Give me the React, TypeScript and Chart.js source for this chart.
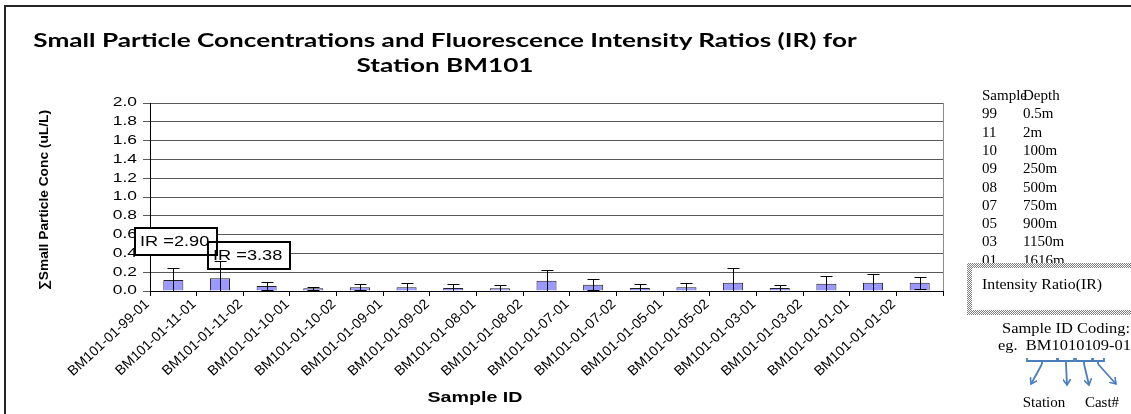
import React, { useEffect, useRef } from "react";
import { Chart, registerables } from "chart.js";

Chart.register(...registerables);

// ---------------- data ----------------
const categories = [
  "BM101-01-99-01",
  "BM101-01-11-01",
  "BM101-01-11-02",
  "BM101-01-10-01",
  "BM101-01-10-02",
  "BM101-01-09-01",
  "BM101-01-09-02",
  "BM101-01-08-01",
  "BM101-01-08-02",
  "BM101-01-07-01",
  "BM101-01-07-02",
  "BM101-01-05-01",
  "BM101-01-05-02",
  "BM101-01-03-01",
  "BM101-01-03-02",
  "BM101-01-01-01",
  "BM101-01-01-02",
];
const concValues = [
  0.117, 0.135, 0.053, 0.03, 0.041, 0.041, 0.031, 0.03, 0.11, 0.067, 0.031,
  0.041, 0.088, 0.031, 0.077, 0.088, 0.088,
];
const errorValues = [
  0.124, 0.187, 0.04, 0.015, 0.033, 0.047, 0.046, 0.037, 0.113, 0.06, 0.046,
  0.047, 0.16, 0.036, 0.085, 0.096, 0.064,
];
const yMin = 0;
const yMax = 2.0;
const yStep = 0.2;

const irTexts = ["IR =2.90", "IR =3.38"];
const irCategory = [0, 1];
const irLevel = [0.527, 0.378];

const sampleCodes = ["99", "11", "10", "09", "08", "07", "05", "03", "01"];
const sampleDepths = ["0.5m", "2m", "100m", "250m", "500m", "750m", "900m", "1150m", "1616m"];

const titleLines = [
  "Small Particle Concentrations and Fluorescence Intensity Ratios (IR) for",
  "Station BM101",
];
const yTitle = "\u2211Small Particle Conc (uL/L)";
const xTitle = "Sample ID";

// ---------------- styling helpers ----------------
const SANS = "'Liberation Sans', Arial, sans-serif";
const SERIF = "'Liberation Serif', 'Times New Roman', serif";
const TITLE_FONT = "bold 18px Lato, 'Liberation Sans', sans-serif";

let measureCtx: CanvasRenderingContext2D | null = null;
function measure(text: string, font: string): number {
  if (!measureCtx) measureCtx = document.createElement("canvas").getContext("2d");
  measureCtx!.font = font;
  return measureCtx!.measureText(text).width;
}

type TP = {
  text: string;
  x: number;
  y: number;
  font: string;
  w?: number;
  align?: "center" | "left";
  rot?: number;
};
function T({ text, x, y, font, w, align = "center", rot = 0 }: TP) {
  const s = w ? w / measure(text, font) : 1;
  const style: React.CSSProperties = {
    position: "absolute",
    left: x,
    top: y,
    font,
    lineHeight: 1,
    whiteSpace: "pre",
    color: "#000",
  };
  if (align === "center") {
    style.transformOrigin = "50% 50%";
    style.transform = `translate(-50%, -50%) rotate(${rot}deg) scaleX(${s})`;
  } else {
    style.transformOrigin = "0 50%";
    style.transform = `translate(0, -50%) scaleX(${s})`;
  }
  return <div style={style}>{text}</div>;
}

export default function App() {
  const canvasRef = useRef<HTMLCanvasElement | null>(null);

  useEffect(() => {
    const canvas = canvasRef.current;
    if (!canvas) return;

    const overlay = {
      id: "overlay",
      afterDraw(chart: any) {
        const { ctx, chartArea: a } = chart;
        const xs = chart.scales.x;
        const ys = chart.scales.y;
        ctx.save();

        // right plot border
        ctx.strokeStyle = "#8c8c8c";
        ctx.lineWidth = 1;
        ctx.beginPath();
        ctx.moveTo(Math.round(a.right) + 0.5, a.top);
        ctx.lineTo(Math.round(a.right) + 0.5, a.bottom);
        ctx.stroke();

        // y tick labels (wide rendering like the reference)
        ctx.fillStyle = "#000";
        ctx.font = `12px ${SANS}`;
        ctx.textAlign = "right";
        ctx.textBaseline = "middle";
        ys.ticks.forEach((t: any) => {
          const py = ys.getPixelForValue(t.value);
          ctx.save();
          ctx.translate(a.left - 13, py);
          ctx.scale(1.45, 1);
          ctx.fillText(Number(t.value).toFixed(1), 0, 0);
          ctx.restore();
        });

        // IR annotation boxes
        const boxW = 82;
        const boxH = 27;
        const shifts = [3, 29];
        const rects = irTexts.map((_, k) => {
          const cx = xs.getPixelForValue(irCategory[k]) + shifts[k];
          const cy = ys.getPixelForValue(irLevel[k]);
          return { x: Math.round(cx - boxW / 2), y: Math.round(cy - boxH / 2) };
        });
        ctx.fillStyle = "#fff";
        rects.forEach((r) => ctx.fillRect(r.x, r.y, boxW, boxH));
        ctx.strokeStyle = "#000";
        ctx.lineWidth = 2;
        rects.forEach((r) => ctx.strokeRect(r.x, r.y, boxW, boxH));
        ctx.fillStyle = "#000";
        ctx.font = `14px ${SANS}`;
        ctx.textAlign = "left";
        ctx.textBaseline = "middle";
        rects.forEach((r, k) => {
          ctx.save();
          ctx.translate(r.x + 5, r.y + boxH / 2 + 1);
          ctx.scale(1.3, 1);
          ctx.fillText(irTexts[k], 0, 0);
          ctx.restore();
        });

        // error bars
        const meta = chart.getDatasetMeta(0);
        ctx.strokeStyle = "#000";
        ctx.lineWidth = 1;
        meta.data.forEach((bar: any, i: number) => {
          const v = concValues[i];
          const e = errorValues[i];
          const px = Math.round(bar.x) + 0.5;
          const top = Math.round(ys.getPixelForValue(v + e)) + 0.5;
          const lo = v - e;
          const bot = Math.round(ys.getPixelForValue(Math.max(lo, 0))) + 0.5;
          ctx.beginPath();
          ctx.moveTo(px, bot);
          ctx.lineTo(px, top);
          ctx.moveTo(px - 6, top);
          ctx.lineTo(px + 6, top);
          if (lo > 0.004) {
            ctx.moveTo(px - 6, bot);
            ctx.lineTo(px + 6, bot);
          }
          ctx.stroke();
        });

        ctx.restore();
      },
    };

    const chart = new Chart(canvas, {
      type: "bar",
      data: {
        labels: categories,
        datasets: [
          {
            data: concValues,
            backgroundColor: "#9999ff",
            borderColor: "#222",
            borderWidth: 1,
            barPercentage: 0.43,
            categoryPercentage: 1,
          },
        ],
      },
      options: {
        responsive: false,
        animation: false,
        devicePixelRatio: 1,
        layout: { padding: { left: 0, top: 103, right: 188, bottom: 0 } },
        plugins: {
          legend: { display: false },
          title: { display: false },
          tooltip: { enabled: false },
        },
        scales: {
          x: {
            grid: {
              drawOnChartArea: false,
              drawTicks: true,
              tickLength: 5,
              color: "#000",
              offset: true,
            },
            border: { color: "#000", width: 1 },
            ticks: {
              autoSkip: false,
              maxRotation: 43,
              minRotation: 43,
              labelOffset: -26,
              padding: 0,
              color: "#000",
              font: { family: SANS, size: 14 },
            },
            afterFit: (s: any) => {
              s.height = 123;
            },
          },
          y: {
            min: yMin,
            max: yMax,
            ticks: { stepSize: yStep, display: false },
            grid: { color: "#595959", tickLength: 7, drawTicks: true },
            border: { color: "#000", width: 1 },
            afterFit: (s: any) => {
              s.width = 150;
            },
          },
        },
      },
      plugins: [overlay],
    } as any);

    return () => chart.destroy();
  }, []);

  const rowY0 = 95;
  const rowStep = 18.3;
  const serif = `15px ${SERIF}`;

  return (
    <div
      style={{
        position: "absolute",
        left: 0,
        top: 0,
        width: 1131,
        height: 414,
        overflow: "hidden",
        background: "#fff",
      }}
    >
      <canvas
        ref={canvasRef}
        width={1131}
        height={414}
        style={{ position: "absolute", left: 0, top: 0, width: 1131, height: 414 }}
      />
      {/* outer frame */}
      <div
        style={{
          position: "absolute",
          left: 4,
          top: 5,
          width: 1200,
          height: 500,
          borderLeft: "2px solid #262626",
          borderTop: "2px solid #262626",
          pointerEvents: "none",
        }}
      />
      {/* titles */}
      <T text={titleLines[0]} x={445} y={40} font={TITLE_FONT} w={824} />
      <T text={titleLines[1]} x={445} y={65} font={TITLE_FONT} w={824 * measure(titleLines[1], TITLE_FONT) / measure(titleLines[0], TITLE_FONT)} />
      <T text={yTitle} x={43} y={200} font={`bold 13px ${SANS}`} w={180} rot={-90} />
      <T text={xTitle} x={475} y={397} font={`bold 14px ${SANS}`} w={95} />

      {/* sample depth table */}
      <T text="Sample" x={982} y={rowY0} font={serif} align="left" />
      <T text="Depth" x={1023} y={rowY0} font={serif} align="left" />
      {sampleCodes.map((c, i) => (
        <React.Fragment key={c}>
          <T text={c} x={982} y={rowY0 + rowStep * (i + 1)} font={serif} align="left" />
          <T text={sampleDepths[i]} x={1023} y={rowY0 + rowStep * (i + 1)} font={serif} align="left" />
        </React.Fragment>
      ))}

      {/* Intensity Ratio box */}
      <div
        style={{
          position: "absolute",
          left: 967,
          top: 263,
          width: 200,
          height: 52,
          background: "repeating-conic-gradient(#808080 0% 25%, #ffffff 0% 50%) 0 0 / 2px 2px",
        }}
      >
        <div style={{ position: "absolute", left: 5, top: 5, right: 5, bottom: 5, background: "#fff" }} />
      </div>
      <T text="Intensity Ratio(IR)" x={982} y={284} font={serif} align="left" w={120} />

      <T text="Sample ID Coding:" x={1066} y={328} font={serif} w={128} />
      <T text="eg.  BM1010109-01" x={998} y={345} font={serif} align="left" w={133} />

      <svg
        width={1131}
        height={414}
        style={{ position: "absolute", left: 0, top: 0 }}
      >
        <defs>
          <marker id="ah" markerWidth="8" markerHeight="8" refX="6" refY="4" orient="auto" markerUnits="userSpaceOnUse">
            <path d="M0,0 L6,4 L0,8" fill="none" stroke="#4a7ebb" strokeWidth="1.6" />
          </marker>
        </defs>
        <g stroke="#4a7ebb" strokeWidth="1.8" fill="none">
          <path d="M1027,358 L1027,361 L1057,361 L1057,358 M1042,361 L1042,364" />
          <path d="M1058,358 L1058,361 L1074,361 L1074,358 M1066,361 L1066,364" />
          <path d="M1076,358 L1076,361 L1092,361 L1092,358 M1084,361 L1084,364" />
          <path d="M1093,358 L1093,361 L1104,361 L1104,358 M1098,361 L1098,364" />
          <line x1={1042} y1={364} x2={1031} y2={384} markerEnd="url(#ah)" />
          <line x1={1066} y1={364} x2={1067} y2={385} markerEnd="url(#ah)" />
          <line x1={1084} y1={364} x2={1089} y2={385} markerEnd="url(#ah)" />
          <line x1={1098} y1={364} x2={1116} y2={384} markerEnd="url(#ah)" />
        </g>
      </svg>
      <T text="Station" x={1044} y={402} font={serif} />
      <T text="Cast#" x={1102} y={402} font={serif} />
    </div>
  );
}
